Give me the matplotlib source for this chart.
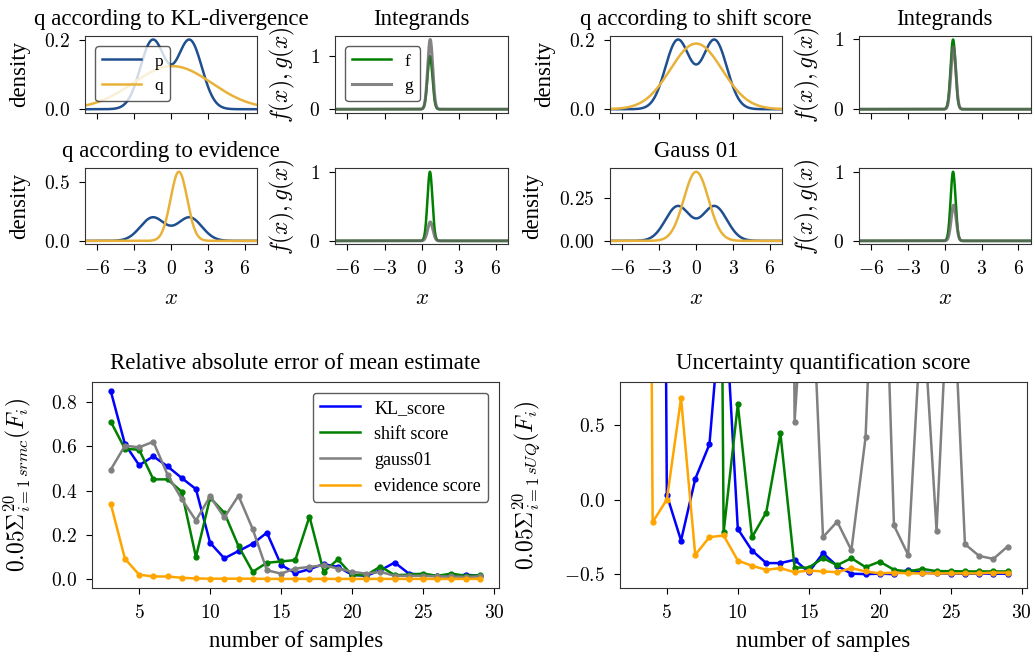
import numpy as np
import matplotlib
matplotlib.use("Agg")
import matplotlib.pyplot as plt

plt.rcParams["font.family"] = ["Liberation Serif", "DejaVu Serif"]
plt.rcParams["mathtext.fontset"] = "cm"
plt.rcParams["axes.edgecolor"] = "#333333"
plt.rcParams["xtick.major.size"] = 4
plt.rcParams["ytick.major.size"] = 4
plt.rcParams["xtick.major.pad"] = 7
plt.rcParams["ytick.major.pad"] = 7

# ---- top panels: target p, proposals q, integrand f ----
p_means = [-1.5, 1.5]
p_sds = [1.0, 1.0]
p_weights = [0.5, 0.5]

q_titles = ["q according to KL-divergence", "q according to shift score",
            "q according to evidence", "Gauss 01"]
q_means = [0.1, 0.0, 0.63, 0.0]
q_sds = [3.2, 2.1, 0.676, 1.0]
density_ticks = [[0.0, 0.2], [0.0, 0.2], [0.0, 0.5], [0.0, 0.25]]
density_ticklabels = [["0.0", "0.2"], ["0.0", "0.2"], ["0.0", "0.5"], ["0.00", "0.25"]]

f_center = 0.67
f_width = 0.2

x_ticks = [-6, -3, 0, 3, 6]

# ---- bottom panels: scores vs number of samples ----
n_samples = list(range(3, 30))

kl_rmc = [0.85, 0.61, 0.515, 0.555, 0.51, 0.457, 0.407, 0.164, 0.094, 0.127, 0.16, 0.21, 0.064,
          0.027, 0.045, 0.068, 0.055, 0.02, 0.015, 0.04, 0.075, 0.025, 0.02, 0.015, 0.012, 0.02, 0.015]
shift_rmc = [0.712, 0.589, 0.585, 0.451, 0.451, 0.395, 0.10, 0.368, 0.30, 0.149, 0.033, 0.074, 0.08,
             0.086, 0.283, 0.033, 0.089, 0.018, 0.018, 0.057, 0.018, 0.02, 0.025, 0.015, 0.025, 0.015, 0.018]
gauss_rmc = [0.495, 0.603, 0.596, 0.621, 0.472, 0.362, 0.265, 0.374, 0.279, 0.377, 0.226, 0.04, 0.025,
             0.048, 0.055, 0.063, 0.048, 0.033, 0.025, 0.033, 0.015, 0.015, 0.015, 0.012, 0.012, 0.01, 0.012]
evid_rmc = [0.34, 0.092, 0.02, 0.012, 0.012, 0.006, 0.003, 0.002, 0.002, 0.002, 0.002, 0.001, 0.001,
            0.001, 0.001, 0.001, 0.001, 0.001, 0.001, 0.001, 0.001, 0.001, 0.001, 0.001, 0.001, 0.001, 0.001]

# values above the top of the plot are only estimates (they run off the chart)
kl_uq = [12.0, 15.0, 0.03, -0.275, 0.138, 0.37, 1.5, -0.197, -0.342, -0.426, -0.426, -0.404, -0.487,
         -0.36, -0.445, -0.497, -0.5, -0.497, -0.5, -0.472, -0.49, -0.495, -0.497, -0.497, -0.497, -0.497, -0.497]
shift_uq = [20.0, 18.0, 15.0, 14.0, 13.0, 12.4, -0.219, 0.639, -0.252, -0.087, 0.444, -0.456, -0.456,
            -0.393, -0.44, -0.393, -0.453, -0.416, -0.471, -0.482, -0.465, -0.48, -0.48, -0.482, -0.482, -0.482, -0.482]
gauss_uq = [35.0, 30.0, 28.0, 26.0, 25.0, 22.0, 20.0, 18.0, 17.0, 16.0, 15.0, 0.522, 2.0,
            -0.252, -0.148, -0.34, 0.418, 2.8, -0.174, -0.371, 1.35, -0.208, 1.8, -0.299, -0.378, -0.398, -0.315]
evid_uq = [15.0, -0.152, 0.0, 0.679, -0.371, -0.252, -0.241, -0.409, -0.444, -0.471, -0.46, -0.487, -0.476,
           -0.482, -0.487, -0.46, -0.482, -0.495, -0.49, -0.495, -0.495, -0.495, -0.495, -0.495, -0.495, -0.49, -0.49]

series_names = ["KL_score", "shift score", "gauss01", "evidence score"]
series_colors = ["blue", "green", "grey", "orange"]

TITLE = 16.5
LABEL = 16.5
TICK = 14


def gauss(x, mu, sd):
    return np.exp(-0.5 * ((x - mu) / sd) ** 2) / (sd * np.sqrt(2 * np.pi))


def mlabels(values):
    return ["$%s$" % v for v in values]


W, H = 1035, 659
fig = plt.figure(figsize=(W / 100, H / 100), dpi=100)


def add_axes(x0, y0, x1, y1):
    return fig.add_axes([x0 / W, 1 - y1 / H, (x1 - x0) / W, (y1 - y0) / H])


xs = np.linspace(-7, 7, 600)
p = sum(w * gauss(xs, m, s) for w, m, s in zip(p_weights, p_means, p_sds))
f = np.exp(-0.5 * ((xs - f_center) / f_width) ** 2)

# pixel boxes of the 8 small panels (density col, integrand col) x 2 groups x 2 rows
col_x = [(85, 257.3, 335, 508.3), (610, 782.3, 859, 1030.7)]
row_y = [(36, 112.7), (168.3, 244.3)]
panel_order = [(0, 0), (0, 1), (1, 0), (1, 1)]  # (row, group) for each q
density_label_x = [-0.32, -0.32, -0.32, -0.39]

for k, (row, grp) in enumerate(panel_order):
    dx0, dx1, ix0, ix1 = col_x[grp]
    y0, y1 = row_y[row]
    q = gauss(xs, q_means[k], q_sds[k])
    g = f * p / q

    axd = add_axes(dx0, y0, dx1, y1)
    axd.plot(xs, p, color="#1f4f8f", lw=1.8, label="p")
    axd.plot(xs, q, color="#e8b23a", lw=1.8, label="q")
    axd.set_xlim(-7, 7)
    axd.set_title(q_titles[k], fontsize=TITLE, pad=8)
    axd.set_ylabel("density", fontsize=LABEL)
    axd.yaxis.set_label_coords(density_label_x[k], 0.5)
    axd.set_yticks(density_ticks[k], mlabels(density_ticklabels[k]), fontsize=TICK)

    axi = add_axes(ix0, y0, ix1, y1)
    axi.plot(xs, f, color="green", lw=1.8, label="f")
    axi.plot(xs, g, color="#666666", lw=2.2, alpha=0.8, label="g")
    axi.set_xlim(-7, 7)
    axi.set_yticks([0, 1], mlabels([0, 1]), fontsize=TICK)
    axi.set_ylabel("$f(x), g(x)$", fontsize=17)
    axi.yaxis.set_label_coords(-0.218, 0.5)
    if row == 0:
        axi.set_title("Integrands", fontsize=TITLE, pad=8)

    for ax in (axd, axi):
        ax.set_xticks(x_ticks)
        if row == 1:
            ax.set_xticklabels(mlabels(x_ticks), fontsize=TICK)
            ax.set_xlabel("$x$", fontsize=LABEL)
            ax.xaxis.set_label_coords(0.5, -0.58)
        else:
            ax.set_xticklabels([])

    if k == 0:
        for ax in (axd, axi):
            ax.legend(loc="upper left", fontsize=12.5, handlelength=2.2, framealpha=0.8,
                      edgecolor="#333333", borderaxespad=0.6)


def score_panel(box, series, title, ylabel, label_x):
    ax = add_axes(*box)
    for ys, name, c in zip(series, series_names, series_colors):
        ax.plot(n_samples, ys, "-o", color=c, lw=1.8, ms=3.5, label=name)
    ax.set_title(title, fontsize=TITLE, pad=9)
    ax.set_xlabel("number of samples", fontsize=LABEL)
    ax.xaxis.set_label_coords(0.5, -0.205)
    ax.set_ylabel(ylabel, fontsize=17)
    ax.yaxis.set_label_coords(label_x, 0.5)
    ax.set_xticks([5, 10, 15, 20, 25, 30], mlabels([5, 10, 15, 20, 25, 30]), fontsize=TICK)
    ax.set_xlim(1.7, 30.35)
    return ax


# ---- bottom left ----
ax1 = score_panel((92.3, 381.7, 499, 588.3), [kl_rmc, shift_rmc, gauss_rmc, evid_rmc],
                  "Relative absolute error of mean estimate",
                  r"$0.05\Sigma_{i=1}^{20}{}_{srmc}(F_i)$", -0.146)
ax1.set_yticks([0.0, 0.2, 0.4, 0.6, 0.8], mlabels(["0.0", "0.2", "0.4", "0.6", "0.8"]), fontsize=TICK)
leg = ax1.legend(loc="upper right", fontsize=13, handlelength=2.2, edgecolor="#333333", borderaxespad=0.6)
for h in leg.legend_handles:
    h.set_marker("")

# ---- bottom right ----
ax2 = score_panel((620, 381.7, 1026.7, 588.3), [kl_uq, shift_uq, gauss_uq, evid_uq],
                  "Uncertainty quantification score",
                  r"$0.05\Sigma_{i=1}^{20}{}_{sUQ}(F_i)$", -0.19)
ax2.set_yticks([-0.5, 0.0, 0.5], mlabels(["-0.5", "0.0", "0.5"]), fontsize=TICK)
ax2.set_ylim(-0.595, 0.79)

fig.savefig("out.png", dpi=100)
